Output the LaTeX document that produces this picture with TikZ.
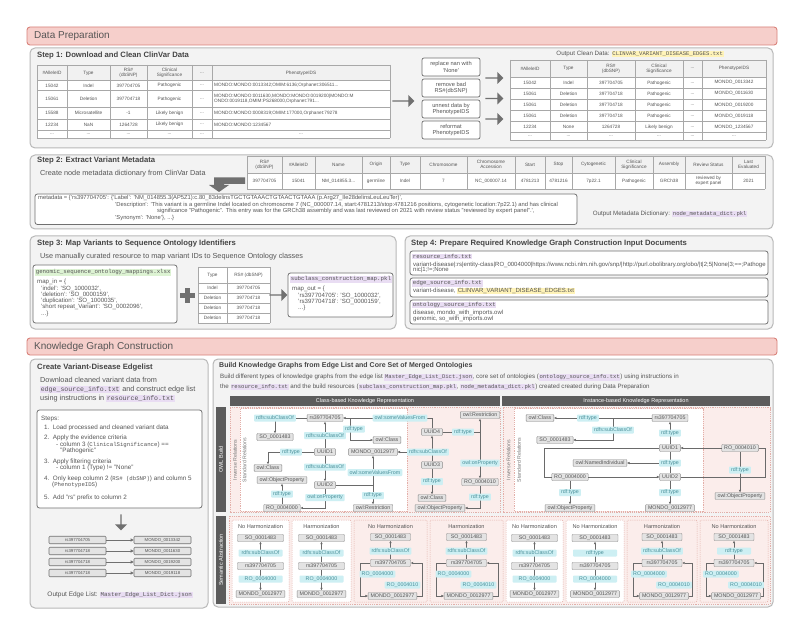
\documentclass[tikz,border=0pt]{standalone}
\usepackage{fontspec}
\setmainfont{Liberation Sans}
\setmonofont[Scale=0.9]{Liberation Mono}
\usetikzlibrary{shapes.arrows,arrows.meta}
\definecolor{hdrF}{HTML}{F6CFCB}
\definecolor{hdrB}{HTML}{D9827A}
\definecolor{panF}{HTML}{F3F3F3}
\definecolor{panB}{HTML}{B8B8B8}
\definecolor{boxB}{HTML}{707070}
\definecolor{txt}{HTML}{555555}
\definecolor{tit}{HTML}{444444}
\definecolor{gnF}{HTML}{E3E3E3}
\definecolor{gnB}{HTML}{8A8A8A}
\definecolor{cyF}{HTML}{CDEFF3}
\definecolor{cyT}{HTML}{4A8F99}
\definecolor{darkbar}{HTML}{5C5C5C}
\definecolor{pinkF}{HTML}{FBEDEB}
\definecolor{pinkB}{HTML}{E3AFA9}
\definecolor{hlY}{HTML}{FFF3B8}
\definecolor{hlP}{HTML}{E9DDF3}
\definecolor{hlG}{HTML}{DDF3D3}
\definecolor{arrG}{HTML}{707070}
\definecolor{tabL}{HTML}{A8A8A8}
\definecolor{tabH}{HTML}{F1F1F1}
\definecolor{edgC}{HTML}{6A6A6A}
\newcommand\fsz[2]{\fontsize{#1pt}{#2pt}\selectfont}
\newcommand\ddd{...}
\newcommand\hlp[1]{{\setlength{\fboxsep}{0.6pt}\colorbox{hlP}{\ttfamily #1}}}
\newcommand\hly[1]{{\setlength{\fboxsep}{0.6pt}\colorbox{hlY}{\ttfamily #1}}}
\newcommand\hlys[1]{{\setlength{\fboxsep}{0.6pt}\colorbox{hlY}{#1}}}
\newcommand\hlg[1]{{\setlength{\fboxsep}{0.6pt}\colorbox{hlG}{\ttfamily #1}}}
\newcommand\simplepanel[6]{%
  \draw[spanel, fill=#6] (#2,520) rectangle (#3,602);
  \pgfmathsetmacro\pcx{(#2+#3)/2}
  \node[ptitle] (#1t) at (\pcx,526) {#4};
  \node[sbox] (#1so) at (\pcx,538) {SO\_0001483};
  \node[sbox] (#1rs) at (\pcx,566) {rs397704705};
  \node[sbox] (#1mo) at (\pcx,594) {MONDO\_0012977};
  \draw[edg] (#1rs) -- (#1so);
  \draw[edg] (#1rs) -- (#1mo);
  \node[slab] (#1la) at (\pcx,553) {#5};
  \node[slab] (#1lb) at (\pcx,579) {RO\_0004000};
}
\newcommand\looppanel[6]{%
  \draw[spanel, fill=#6] (#2,520) rectangle (#3,602);
  \pgfmathsetmacro\pcx{(#2+#3)/2}
  \pgfmathsetmacro\pxl{#2+6}
  \pgfmathsetmacro\pxr{#3-5}
  \node[ptitle] (#1t) at (\pcx,526) {#4};
  \node[lbox] (#1so) at (\pcx,537) {SO\_0001483};
  \node[lbox] (#1rs) at (\pcx,563) {rs397704705};
  \node[gnode] (#1mo) at (\pcx+2,596) {MONDO\_0012977};
  \coordinate (#1ja) at (\pxl,563);
  \coordinate (#1jb) at (\pxr,596);
  \draw[edg] (#1rs) -- (#1so);
  \draw[edg] (#1rs.west) -- (#1ja) |- (#1mo.west);
  \draw[edg] (#1mo.east) -- (#1jb) |- (#1rs.east);
  \node[llab] (#1la) at (\pcx,551) {#5};
  \node[llab] (#1lb) at (\pcx-13,574) {RO\_0004000};
  \node[llab] (#1lc) at (\pcx+12,585) {RO\_0004010};
}
\tikzset{
  hdr/.style={draw=hdrB, fill=hdrF, rounded corners=3pt, line width=0.9pt},
  hdrtext/.style={font=\fsz{10}{11}, text=txt, anchor=west, inner sep=0pt},
  panel/.style={draw=panB, fill=panF, rounded corners=5pt, line width=1pt},
  wbox/.style={draw=boxB, fill=white, rounded corners=2.5pt, line width=0.8pt},
  tline/.style={draw=tabL, line width=0.4pt},
  tcell/.style={font=\fsz{4.7}{5.3}, text=txt, align=center, inner sep=0pt},
  ttext/.style={font=\fsz{4.7}{5.3}, text=txt, align=left, inner sep=0pt, anchor=west},
  sbtitle/.style={font=\bfseries\fsz{7.7}{9}, text=tit, anchor=west, inner sep=0pt},
  body/.style={font=\fsz{7.3}{8.5}, text=txt, anchor=west, inner sep=0pt},
  otext/.style={font=\fsz{6.2}{7.2}, text=txt, inner sep=0pt},
  code/.style={font=\fsz{6.1}{7}, text=txt, anchor=west, inner sep=0pt},
  chead/.style={font=\fsz{6.4}{7.2}, text=txt, anchor=west, inner sep=0pt},
  mtext/.style={font=\fsz{5.8}{6.5}, text=txt, anchor=west, inner sep=0pt},
  s4text/.style={font=\fsz{6.0}{6.8}, text=txt, anchor=west, inner sep=0pt},
  steptext/.style={font=\fsz{6.3}{7.2}, text=txt, anchor=west, inner sep=0pt},
  opbox/.style={draw=boxB, fill=white, rounded corners=2pt, line width=0.7pt, font=\fsz{5.7}{6.5}, text=txt, align=center, minimum width=58pt, minimum height=18pt, inner sep=0pt},
  bigarrow/.style={single arrow, fill=arrG, draw=none, inner sep=0pt, minimum width=12pt, single arrow head extend=2pt},
  gnode/.style={draw=gnB, fill=gnF, rounded corners=0.8pt, line width=0.45pt, font=\fsz{5.3}{6}, text=txt, inner xsep=2.5pt, inner ysep=0.6pt, minimum height=7pt},
  clab/.style={fill=cyF, rounded corners=0.8pt, font=\fsz{5.3}{6}, text=cyT, inner xsep=2pt, inner ysep=0.6pt, minimum height=7pt},
  sbox/.style={gnode, minimum width=46pt},
  slab/.style={clab, minimum width=44pt},
  lbox/.style={gnode, minimum width=40pt},
  llab/.style={clab, minimum width=34pt},
  edg/.style={draw=edgC, line width=0.45pt, -{Triangle[length=2.4pt,width=2.2pt]}},
  pln/.style={draw=edgC, line width=0.45pt},
  dbar/.style={fill=darkbar, draw=none},
  dbtext/.style={font=\fsz{5.5}{6.2}, text=white, inner sep=0pt},
  pinkreg/.style={fill=pinkF, draw=pinkB, dash pattern=on 1.2pt off 1pt, line width=0.5pt},
  whitereg/.style={fill=white, draw=pinkB, dash pattern=on 1.2pt off 1pt, line width=0.5pt},
  spanel/.style={draw=pinkB, dash pattern=on 1.2pt off 1pt, line width=0.5pt, rounded corners=1pt},
  ptitle/.style={font=\fsz{5.6}{6.4}, text=txt, inner sep=0pt},
  vlab/.style={font=\fsz{5.2}{6}, text=txt!80, inner sep=0pt, rotate=90},
  eb/.style={draw=boxB, fill=gnF, rounded corners=1pt, line width=0.6pt, font=\fsz{4.3}{5}, text=txt, minimum width=57pt, minimum height=7.5pt, inner sep=0pt},
  eln/.style={draw=boxB, line width=0.6pt, -{Triangle[length=3pt,width=3pt]}}
}
\begin{document}
\begin{tikzpicture}[x=1pt,y=-1pt]
\useasboundingbox (0,0) rectangle (800,628);
\fill[white] (0,0) rectangle (800,628);

% ================= DATA PREPARATION =================
\draw[hdr] (27,27) rectangle (777,45);
\node[hdrtext] (hdp) at (34,36) {Data Preparation};

% ---------- Step 1
\draw[panel] (30,48) rectangle (773,148);
\node[sbtitle] (s1t) at (37,55.5) {Step 1: Download and Clean ClinVar Data};
% left table
\fill[white] (37,65) rectangle (390,138.3);
\fill[tabH] (37,65) rectangle (390,80.7);
\foreach \x in {37,67,110,147,192,212,390} \draw[tline] (\x,65) -- (\x,138.3);
\foreach \y in {65,80.7,90.7,107.3,119.3,130,138.3} \draw[tline] (37,\y) -- (390,\y);
\foreach \x/\t in {52/\#AlleleID,88.5/Type,128.5/{RS\#\\(dbSNP)},169.5/{Clinical\\Significance},202/\ddd,301/PhenotypeIDS} \node[tcell] at (\x,72.9) {\t};
\foreach \x/\t in {52/15042,88.5/Indel,128.5/397704705,169.5/Pathogenic,202/\ddd} \node[tcell] at (\x,85.7) {\t};
\node[ttext] at (214,85.7) {MONDO:MONDO:0013342;OMIM:6136;Orphanet:306511...};
\foreach \x/\t in {52/15061,88.5/Deletion,128.5/397704718,169.5/Pathogenic,202/\ddd} \node[tcell] at (\x,99) {\t};
\node[ttext] at (214,99) {MONDO:MONDO:0011630,MONDO:MONDO:0019200|MONDO:M\\ONDO:0019118,OMIM:PS268000,Orphanet:791...};
\foreach \x/\t in {52/15588,88.5/Microsatellite,128.5/-1,169.5/Likely benign,202/\ddd} \node[tcell] at (\x,113.3) {\t};
\node[ttext] at (214,113.3) {MONDO:MONDO:0008319;OMIM:177000,Orphanet:79278};
\foreach \x/\t in {52/12234,88.5/NaN,128.5/1264728,169.5/Likely benign,202/\ddd} \node[tcell] at (\x,124.7) {\t};
\node[ttext] at (214,124.7) {MONDO:MONDO:1234567};
\foreach \x in {52,88.5,128.5,169.5,202,301} \node[tcell] at (\x,134.2) {\ddd};

\node[bigarrow, minimum height=22pt] (ba1) at (403,101) {};
\node[opbox] (op1) at (451,67) {replace nan with\\`None'};
\node[opbox] (op2) at (451,88) {remove bad\\RS\#(dbSNP)};
\node[opbox] (op3) at (451,109) {unnest data by\\PhenotypeIDS};
\node[opbox] (op4) at (451,130) {reformat\\PhenotypeIDS};
\node[bigarrow, minimum height=18pt] (ba2) at (494,78) {};
\node[bigarrow, minimum height=18pt] (ba3) at (494,98.5) {};
\node[bigarrow, minimum height=18pt] (ba4) at (494,119) {};

\node[otext] (o1) at (640,54) {Output Clean Data: \hly{CLINVAR\_VARIANT\_DISEASE\_EDGES.txt}};
% right table
\fill[white] (510,60) rectangle (766,140);
\fill[tabH] (510,60) rectangle (766,77.3);
\foreach \x in {510,550,587,635,683,702,766} \draw[tline] (\x,60) -- (\x,140);
\foreach \y in {60,77.3,88.3,99.3,110.7,121.7,132.7,140} \draw[tline] (510,\y) -- (766,\y);
\foreach \x/\t in {530/\#AlleleID,568.5/Type,611/{RS\#\\(dbSNP)},659/{Clinical\\Significance},692.5/\ddd,734/PhenotypeIDS} \node[tcell] at (\x,68.7) {\t};
\foreach \x/\t in {530/15042,568.5/Indel,611/397704705,659/Pathogenic,692.5/\ddd,734/MONDO\_0013342} \node[tcell] at (\x,82.8) {\t};
\foreach \x/\t in {530/15061,568.5/Deletion,611/397704718,659/Pathogenic,692.5/\ddd,734/MONDO\_0011630} \node[tcell] at (\x,93.8) {\t};
\foreach \x/\t in {530/15061,568.5/Deletion,611/397704718,659/Pathogenic,692.5/\ddd,734/MONDO\_0019200} \node[tcell] at (\x,105) {\t};
\foreach \x/\t in {530/15061,568.5/Deletion,611/397704718,659/Pathogenic,692.5/\ddd,734/MONDO\_0019118} \node[tcell] at (\x,116.2) {\t};
\foreach \x/\t in {530/12234,568.5/None,611/1264728,659/Likely benign,692.5/\ddd,734/MONDO\_1234567} \node[tcell] at (\x,127.2) {\t};
\foreach \x in {530,568.5,611,659,692.5,734} \node[tcell] at (\x,136.3) {\ddd};

% ---------- Step 2
\draw[panel] (30,155) rectangle (773,229);
\node[sbtitle] (s2t) at (37,161) {Step 2: Extract Variant Metadata};
\node[body] (s2b) at (40,173.5) {Create node metadata dictionary from ClinVar Data};
\fill[white] (247,156) rectangle (765,189);
\fill[tabH] (247,156) rectangle (765,173);
\foreach \x in {247,282,315,362,390,420,467,515,545,572,615,653,685,732,765} \draw[tline] (\x,156) -- (\x,189);
\foreach \y in {156,173,189} \draw[tline] (247,\y) -- (765,\y);
\foreach \x/\t in {264.5/{RS\#\\(dbSNP)},298.5/\#AlleleID,338.5/Name,376/Origin,405/Type,443.5/Chromosome,491/{Chromosome\\Accession},530/Start,558.5/Stop,593.5/Cytogenetic,634/{Clinical\\Significance},669/Assembly,708.5/Review Status,748.5/{Last\\Evaluated}} \node[tcell] at (\x,164.5) {\t};
\foreach \x/\t in {264.5/397704705,298.5/15041,338.5/NM\_014855.3\ddd,376/germline,405/Indel,443.5/7,491/NC\_000007.14,530/4781213,558.5/4781216,593.5/7p22.1,634/Pathogenic,669/GRCh38,708.5/{reviewed by\\expert panel},748.5/2021} \node[tcell] at (\x,181) {\t};
\fill[arrG] (245,177.5) -- (245,184) -- (224,184) -- (224,185) -- (229,185) -- (219,192) -- (209,185) -- (214,185) -- (214,177.5) -- cycle;
\draw[wbox] (35,194) rectangle (577,224.5);
\node[mtext] (md1) at (38,198.5) {metadata = \{'rs397704705': \{'Label': 'NM\_014855.3(AP5Z1):c.80\_83delinsTGCTGTAAACTGTAACTGTAAA (p.Arg27\_Ile28delinsLeuLeuTer)',};
\node[mtext] (md2) at (115,205) {'Description': 'This variant is a germline Indel located on chromosome 7 (NC\_000007.14, start:4781213/stop:4781216 positions, cytogenetic location:7p22.1) and has clinical};
\node[mtext] (md3) at (157,211.5) {significance "Pathogenic". This entry was for the GRCh38 assembly and was last reviewed on 2021 with review status "reviewed by expert panel".',};
\node[mtext] (md4) at (115,218) {'Synonym': 'None'\}, ...\}};
\node[otext] (o2) at (670,214) {Output Metadata Dictionary: \hlp{node\_metadata\_dict.pkl}};

% ---------- Step 3
\draw[panel] (30,236) rectangle (396,329);
\node[sbtitle] (s3t) at (37,244) {Step 3: Map Variants to Sequence Ontology Identifiers};
\node[body] (s3b) at (40,257) {Use manually curated resource to map variant IDs to Sequence Ontology classes};
\draw[wbox] (33,265) rectangle (177,323);
\node[chead] (g0) at (35,272.5) {\hlg{genomic\_sequence\_ontology\_mappings.xlsx}};
\node[code] (g1) at (37,282) {map\_in = \{};
\node[code] (g2) at (41,288.5) {'indel': 'SO\_1000032',};
\node[code] (g3) at (41,294.7) {'deletion': 'SO\_0000159',};
\node[code] (g4) at (41,300.9) {'duplication': 'SO\_1000035',};
\node[code] (g5) at (41,307.1) {'short repeat\_Variant': 'SO\_0002096',};
\node[code] (g6) at (41,313.5) {...\}};
\fill[arrG] (180,293) rectangle (195,297.5);
\fill[arrG] (185.3,288) rectangle (189.7,302.5);
\fill[white] (198,267) rectangle (270,323);
\foreach \x in {198,227,270} \draw[tline] (\x,267) -- (\x,323);
\foreach \y in {267,283,293,303,313,323} \draw[tline] (198,\y) -- (270,\y);
\foreach \y/\a/\b in {275/Type/RS\# (dbSNP),288/Indel/397704705,298/Deletion/397704718,308/Deletion/397704718,318/Deletion/397704718} {\node[tcell] at (212.5,\y) {\a}; \node[tcell] at (248.5,\y) {\b};}
\node[bigarrow, minimum height=18pt] (ba5) at (278,295) {};
\draw[wbox] (288,273) rectangle (393,317);
\node[chead] (p0) at (290,279.5) {\hlp{subclass\_construction\_map.pkl}};
\node[code] (p1) at (292,289) {map\_out = \{};
\node[code] (p2) at (298,295.5) {'rs397704705': 'SO\_1000032',};
\node[code] (p3) at (298,301.7) {'rs397704718': 'SO\_0000159',};
\node[code] (p4) at (298,308) {...\}};

% ---------- Step 4
\draw[panel] (405,236) rectangle (773,329);
\node[sbtitle] (s4t) at (411,244) {Step 4: Prepare Required Knowledge Graph Construction Input Documents};
\draw[wbox] (410,251) rectangle (768,275);
\node[chead] (r0) at (412,256.5) {\hlp{resource\_info.txt}};
\node[s4text] (r1) at (413,264.5) {variant-disease|:rs|entity-class|RO\_0004000|https://www.ncbi.nlm.nih.gov/snp/|http://purl.obolibrary.org/obo/|t|2;5|None|3;==;Pathoge};
\node[s4text] (r2) at (413,270.3) {nic|1;!=;None};
\draw[wbox] (410,278) rectangle (768,297);
\node[chead] (e0) at (412,283.5) {\hlp{edge\_source\_info.txt}};
\node[s4text] (e1) at (413,291) {variant-disease, \hlys{CLINVAR\_VARIANT\_DISEASE\_EDGES.txt}};
\draw[wbox] (410,300) rectangle (768,324);
\node[chead] (n0) at (412,305) {\hlp{ontology\_source\_info.txt}};
\node[s4text] (n1) at (413,312.5) {disease, mondo\_with\_imports.owl};
\node[s4text] (n2) at (413,318.5) {genomic, so\_with\_imports.owl};

% ================= KNOWLEDGE GRAPH CONSTRUCTION =================
\draw[hdr] (27,338) rectangle (777,355);
\node[hdrtext] (hkg) at (34,346.5) {Knowledge Graph Construction};

% ---------- left panel
\draw[panel] (30,359) rectangle (208,608);
\node[sbtitle] (kt) at (37,368) {Create Variant-Disease Edgelist};
\node[body] (k1) at (40,380) {Download cleaned variant data from};
\node[body] (k2) at (40,389.5) {\hlp{edge\_source\_info.txt} and construct edge list};
\node[body] (k3) at (40,398.5) {using instructions in \hlp{resource\_info.txt}};
\draw[wbox] (37,410) rectangle (202,508);
\node[steptext] (st0) at (41,419) {Steps:};
\node[steptext] (st1) at (44,428) {1.\ \ Load processed and cleaned variant data};
\node[steptext] (st2) at (44,438) {2.\ \ Apply the evidence criteria};
\node[steptext] (st3) at (56,444.5) {- column 3 ({\ttfamily ClinicalSignificance}) ==};
\node[steptext] (st4) at (60,451) {"Pathogenic"};
\node[steptext] (st5) at (44,461.5) {3.\ \ Apply filtering criteria};
\node[steptext] (st6) at (56,468) {- column 1 (Type) != "None"};
\node[steptext] (st7) at (44,478.5) {4.\ \ Only keep column 2 ({\ttfamily RS\# (dbSNP)}) and column 5};
\node[steptext] (st8) at (52,485) {({\ttfamily PhenotypeIDS})};
\node[steptext] (st9) at (44,497.5) {5.\ \ Add "rs" prefix to column 2};
\node[bigarrow, minimum height=16pt, shape border rotate=270] (ba6) at (121,522) {};
\foreach \i/\y/\a/\b in {1/540/rs397704705/MONDO\_0013342,2/551/rs397704718/MONDO\_0011630,3/562/rs397704718/MONDO\_0019200,4/573/rs397704718/MONDO\_0019118} {
  \node[eb] (el\i) at (77.5,\y) {\a};
  \node[eb] (er\i) at (162.5,\y) {\b};
  \draw[eln] (el\i) -- (er\i);
}
\node[otext, font=\fsz{6.5}{7.5}] (o3) at (120,595) {Output Edge List: \hlp{Master\_Edge\_List\_Dict.json}};

% ---------- right panel
\draw[panel] (213,359) rectangle (773,607);
\node[sbtitle, font=\bfseries\fsz{7}{8}] (bt) at (219,366) {Build Knowledge Graphs from Edge List and Core Set of Merged Ontologies};
\node[body, font=\fsz{6.2}{7.2}] (b1) at (220,377.5) {Build different types of knowledge graphs from the edge list \hlp{Master\_Edge\_List\_Dict.json}, core set of ontologies (\hlp{ontology\_source\_info.txt}) using instructions in};
\node[body, font=\fsz{6.2}{7.2}] (b2) at (220,387) {the \hlp{resource\_info.txt} and the build resources (\hlp{subclass\_construction\_map.pkl}, \hlp{node\_metadata\_dict.pkl}) created created during Data Preparation};

\fill[dbar] (230,395.5) rectangle (500,405.5);
\node[dbtext] (cbh) at (365,400.6) {Class-based Knowledge Representation};
\fill[dbar] (502,395.5) rectangle (770,405.5);
\node[dbtext] (ibh) at (636,400.6) {Instance-based Knowledge Representation};
\fill[dbar] (216,407) rectangle (226,512);
\node[dbtext, rotate=90] (owb) at (221,459.5) {OWL Build};
\fill[dbar] (216,516) rectangle (226,604);
\node[dbtext, rotate=90] (sab) at (221,560) {Semantic Abstraction};

\draw[pinkreg] (230,407.5) rectangle (500,512);
\draw[whitereg] (240,408.5) rectangle (407,511);
\node[vlab] (vi1) at (235,460) {Inverse Relations};
\node[vlab] (vs1) at (244.5,460) {Standard Relations};
\draw[pinkreg] (503,407.5) rectangle (770,512);
\draw[whitereg] (514,408.5) rectangle (703,511);
\node[vlab] (vi2) at (508.5,460) {Inverse Relations};
\node[vlab] (vs2) at (519,460) {Standard Relations};

% ----- class-based graph
\node[gnode] (cA) at (325,418) {rs397704705};
\node[gnode] (cB) at (275,437) {SO\_0001483};
\node[gnode] (cC) at (387,440) {owl:Class};
\node[gnode] (cD) at (325,452) {UUID1};
\node[gnode] (cE) at (373,452) {MONDO\_0012977};
\node[gnode] (cF) at (268,468) {owl:Class};
\node[gnode] (cG) at (282,480) {owl:ObjectProperty};
\node[gnode] (cH) at (325,485) {UUID2};
\node[gnode] (cI) at (282,508) {RO\_0004000};
\node[gnode] (cJ) at (373,508) {owl:Restriction};
\node[gnode] (cK) at (480,415) {owl:Restriction};
\node[gnode] (cL) at (432,432) {UUID4};
\node[gnode] (cM) at (432,465) {UUID3};
\node[gnode] (cN) at (480,482) {RO\_0004010};
\node[gnode] (cO) at (432,498) {owl:Class};
\node[gnode] (cP) at (440,508) {owl:ObjectProperty};
\coordinate (cj1) at (350,418);
\coordinate (cj2) at (432,452);
\coordinate (cj3) at (480,432);
\coordinate (cj4) at (373,485);
\draw[edg] (cA.west) -| (cB.north);
\draw[edg] (cL.north) |- (cA.east);
\draw[edg] (cj1) |- (cC.west);
\draw[edg] (cL.east) -| (cK.south);
\draw[edg] (cj3) -- (cN.north);
\draw[edg] (cD.north) -- (cA.south);
\draw[edg] (cD.west) -| (cF.north);
\draw[edg] (cM.north) -- (cL.south);
\draw[edg] (cj2) -- (cE.east);
\draw[edg] (cD.south) -- (cH.north);
\draw[edg] (cH.east) -| (cE.south);
\draw[edg] (cj4) -- (cJ.north);
\draw[edg] (cM.south) -- (cO.north);
\draw[edg] (cN.south) |- (cP.east);
\draw[edg] (cH.south) |- (cI.east);
\draw[edg] (cI.north) -- (cG.south);
\node[clab] (l1) at (275,418) {rdfs:subClassOf};
\node[clab] (l2) at (400,418) {owl:someValuesFrom};
\node[clab] (l3) at (354,429) {rdf:type};
\node[clab] (l4) at (463,432) {rdf:type};
\node[clab] (l5) at (325,435.5) {rdfs:subClassOf};
\node[clab] (l6) at (291,452) {rdf:type};
\node[clab] (l7) at (428,452) {rdfs:subClassOf};
\node[clab] (l8) at (325,467) {rdfs:subClassOf};
\node[clab] (l9) at (480,463) {owl:onProperty};
\node[clab] (l10) at (375,472.5) {owl:someValuesFrom};
\node[clab] (l11) at (432,481.5) {rdf:type};
\node[clab] (l12) at (373,495.5) {rdf:type};
\node[clab] (l13) at (282,494) {rdf:type};
\node[clab] (l14) at (325,497.5) {owl:onProperty};
\node[clab] (l15) at (480,497) {rdf:type};

% ----- instance-based graph
\node[gnode] (iA) at (540,418) {owl:Class};
\node[gnode] (iB) at (670,418) {rs397704705};
\node[gnode] (iC) at (555,440) {SO\_0001483};
\node[gnode] (iD) at (670,448) {UUID1};
\node[gnode] (iE) at (740,448) {RO\_0004010};
\node[gnode] (iF) at (600,463) {owl:NamedIndividual};
\node[gnode] (iG) at (570,477) {RO\_0004000};
\node[gnode] (iH) at (670,477) {UUID2};
\node[gnode] (iI) at (740,496) {owl:ObjectProperty};
\node[gnode] (iJ) at (570,508) {owl:ObjectProperty};
\node[gnode] (iK) at (670,508) {MONDO\_0012977};
\coordinate (ij1) at (613,418);
\coordinate (ij2) at (670,463);
\coordinate (ij3) at (544,448);
\coordinate (ij4) at (544,477);
\coordinate (ij5) at (765,477);
\coordinate (ij6) at (765,448);
\draw[edg] (iB.west) -- (iA.east);
\draw[edg] (ij1) |- (iC.east);
\draw[edg] (iD.north) -- (iB.south);
\draw[edg] (iE.west) -- (iD.east);
\draw[pln] (iD.west) -- (ij3) -- (ij4) -- (iG.west);
\draw[edg] (iG.east) -- (iH.west);
\draw[pln] (iH.east) -- (ij5) -- (ij6) -- (iE.east);
\draw[pln] (iD.south) -- (iH.north);
\draw[edg] (ij2) -- (iF.east);
\draw[edg] (iH.south) -- (iK.north);
\draw[edg] (iG.south) -- (iJ.north);
\draw[edg] (iE.south) -- (iI.north);
\node[clab] (m1) at (588,418) {rdf:type};
\node[clab] (m2) at (613,430) {rdfs:subClassOf};
\node[clab] (m3) at (670,433) {rdf:type};
\node[clab] (m4) at (670,463) {rdf:type};
\node[clab] (m5) at (740,470) {rdf:type};
\node[clab] (m6) at (570,492.5) {rdf:type};
\node[clab] (m7) at (670,492.5) {rdf:type};

% ----- semantic abstraction row
\draw[pinkreg] (229,516) rectangle (770,604);
\simplepanel{pa}{232}{289}{No Harmonization}{rdfs:subClassOf}{white}
\simplepanel{pb}{292}{351}{Harmonization}{rdfs:subClassOf}{white}
\looppanel{pc}{354}{427}{No Harmonization}{rdfs:subClassOf}{pinkF}
\looppanel{pd}{430}{503}{Harmonization}{rdfs:subClassOf}{pinkF}
\simplepanel{pe}{506}{563}{No Harmonization}{rdfs:subClassOf}{white}
\simplepanel{pf}{566}{624}{No Harmonization}{rdf:type}{white}
\looppanel{pg}{627}{697}{Harmonization}{rdfs:subClassOf}{pinkF}
\looppanel{ph}{700}{768}{No Harmonization}{rdf:type}{pinkF}
\end{tikzpicture}
\end{document}
